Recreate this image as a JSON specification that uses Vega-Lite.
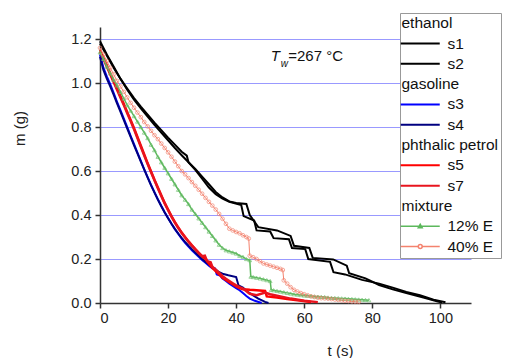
{
  "$schema": "https://vega.github.io/schema/vega-lite/v6.json",
  "width": 371,
  "height": 276,
  "autosize": {"type": "none"},
  "padding": {"left": 100, "top": 27, "right": 35, "bottom": 55},
  "background": "white",
  "config": {"view": {"stroke": null}, "font": "Liberation Sans"},
  "datasets": {
    "curves": [
      {"s":"s1","t":0,"m":1.19},{"s":"s1","t":2,"m":1.13},{"s":"s1","t":4,"m":1.075},{"s":"s1","t":6,"m":1.02},{"s":"s1","t":8,"m":0.97},{"s":"s1","t":10,"m":0.925},{"s":"s1","t":12,"m":0.885},{"s":"s1","t":14,"m":0.847},{"s":"s1","t":16,"m":0.81},{"s":"s1","t":18,"m":0.775},{"s":"s1","t":20,"m":0.74},{"s":"s1","t":22,"m":0.705},{"s":"s1","t":24,"m":0.672},{"s":"s1","t":26,"m":0.64},{"s":"s1","t":28,"m":0.605},{"s":"s1","t":30,"m":0.565},{"s":"s1","t":32,"m":0.525},{"s":"s1","t":34,"m":0.495},{"s":"s1","t":36,"m":0.475},{"s":"s1","t":38,"m":0.46},{"s":"s1","t":41.5,"m":0.445},{"s":"s1","t":42.2,"m":0.395},{"s":"s1","t":45.3,"m":0.375},{"s":"s1","t":46,"m":0.33},{"s":"s1","t":50,"m":0.325},{"s":"s1","t":51,"m":0.295},{"s":"s1","t":55.5,"m":0.29},{"s":"s1","t":56.4,"m":0.25},{"s":"s1","t":60.3,"m":0.245},{"s":"s1","t":61.2,"m":0.2},{"s":"s1","t":67.6,"m":0.187},{"s":"s1","t":68.6,"m":0.14},{"s":"s1","t":72,"m":0.13},{"s":"s1","t":77,"m":0.105},{"s":"s1","t":82,"m":0.088},{"s":"s1","t":86,"m":0.07},{"s":"s1","t":90,"m":0.05},{"s":"s1","t":94,"m":0.035},{"s":"s1","t":98,"m":0.015},{"s":"s1","t":101.5,"m":0.003},
      {"s":"s2","t":0,"m":1.18},{"s":"s2","t":2,"m":1.125},{"s":"s2","t":4,"m":1.07},{"s":"s2","t":6,"m":1.02},{"s":"s2","t":8,"m":0.975},{"s":"s2","t":10,"m":0.932},{"s":"s2","t":12,"m":0.893},{"s":"s2","t":14,"m":0.856},{"s":"s2","t":16,"m":0.82},{"s":"s2","t":18,"m":0.786},{"s":"s2","t":20,"m":0.752},{"s":"s2","t":22,"m":0.72},{"s":"s2","t":24,"m":0.688},{"s":"s2","t":25.5,"m":0.67},{"s":"s2","t":26,"m":0.64},{"s":"s2","t":28,"m":0.61},{"s":"s2","t":30,"m":0.575},{"s":"s2","t":32,"m":0.54},{"s":"s2","t":34,"m":0.505},{"s":"s2","t":36,"m":0.48},{"s":"s2","t":38,"m":0.462},{"s":"s2","t":40,"m":0.455},{"s":"s2","t":43,"m":0.45},{"s":"s2","t":44,"m":0.4},{"s":"s2","t":46.5,"m":0.345},{"s":"s2","t":52,"m":0.33},{"s":"s2","t":56,"m":0.305},{"s":"s2","t":57,"m":0.26},{"s":"s2","t":61.5,"m":0.25},{"s":"s2","t":62.5,"m":0.205},{"s":"s2","t":68.5,"m":0.198},{"s":"s2","t":72.5,"m":0.17},{"s":"s2","t":73.2,"m":0.135},{"s":"s2","t":78,"m":0.112},{"s":"s2","t":82,"m":0.082},{"s":"s2","t":86,"m":0.062},{"s":"s2","t":90,"m":0.045},{"s":"s2","t":95,"m":0.025},{"s":"s2","t":99,"m":0.008},{"s":"s2","t":100.5,"m":0.002},
      {"s":"s3","t":0,"m":1.13},{"s":"s3","t":1,"m":1.07},{"s":"s3","t":2,"m":1.03},{"s":"s3","t":3,"m":0.995},{"s":"s3","t":4,"m":0.955},{"s":"s3","t":5,"m":0.915},{"s":"s3","t":6,"m":0.877},{"s":"s3","t":7,"m":0.838},{"s":"s3","t":8,"m":0.8},{"s":"s3","t":9,"m":0.76},{"s":"s3","t":10,"m":0.722},{"s":"s3","t":11,"m":0.684},{"s":"s3","t":12,"m":0.646},{"s":"s3","t":13,"m":0.608},{"s":"s3","t":14,"m":0.572},{"s":"s3","t":15,"m":0.537},{"s":"s3","t":16,"m":0.504},{"s":"s3","t":17,"m":0.472},{"s":"s3","t":18,"m":0.442},{"s":"s3","t":19,"m":0.413},{"s":"s3","t":20,"m":0.386},{"s":"s3","t":21,"m":0.36},{"s":"s3","t":22,"m":0.336},{"s":"s3","t":23,"m":0.314},{"s":"s3","t":24,"m":0.293},{"s":"s3","t":25,"m":0.274},{"s":"s3","t":26,"m":0.257},{"s":"s3","t":27,"m":0.24},{"s":"s3","t":28,"m":0.225},{"s":"s3","t":29,"m":0.21},{"s":"s3","t":30,"m":0.196},{"s":"s3","t":31,"m":0.183},{"s":"s3","t":32,"m":0.17},{"s":"s3","t":33,"m":0.158},{"s":"s3","t":33.8,"m":0.157},{"s":"s3","t":34.3,"m":0.13},{"s":"s3","t":35.3,"m":0.125},{"s":"s3","t":35.9,"m":0.112},{"s":"s3","t":37,"m":0.1},{"s":"s3","t":38,"m":0.088},{"s":"s3","t":39,"m":0.078},{"s":"s3","t":40,"m":0.068},{"s":"s3","t":41,"m":0.058},{"s":"s3","t":42,"m":0.045},{"s":"s3","t":43,"m":0.032},{"s":"s3","t":44,"m":0.02},{"s":"s3","t":45.5,"m":0.01},{"s":"s3","t":47.5,"m":0},
      {"s":"s4","t":0,"m":1.12},{"s":"s4","t":1,"m":1.06},{"s":"s4","t":2,"m":1.02},{"s":"s4","t":3,"m":0.985},{"s":"s4","t":4,"m":0.947},{"s":"s4","t":5,"m":0.908},{"s":"s4","t":6,"m":0.87},{"s":"s4","t":7,"m":0.832},{"s":"s4","t":8,"m":0.793},{"s":"s4","t":9,"m":0.755},{"s":"s4","t":10,"m":0.717},{"s":"s4","t":11,"m":0.68},{"s":"s4","t":12,"m":0.643},{"s":"s4","t":13,"m":0.606},{"s":"s4","t":14,"m":0.57},{"s":"s4","t":15,"m":0.535},{"s":"s4","t":16,"m":0.502},{"s":"s4","t":17,"m":0.47},{"s":"s4","t":18,"m":0.44},{"s":"s4","t":19,"m":0.412},{"s":"s4","t":20,"m":0.385},{"s":"s4","t":21,"m":0.36},{"s":"s4","t":22,"m":0.337},{"s":"s4","t":23,"m":0.316},{"s":"s4","t":24,"m":0.296},{"s":"s4","t":25,"m":0.278},{"s":"s4","t":26,"m":0.261},{"s":"s4","t":27,"m":0.245},{"s":"s4","t":28,"m":0.23},{"s":"s4","t":29,"m":0.215},{"s":"s4","t":30,"m":0.2},{"s":"s4","t":31,"m":0.187},{"s":"s4","t":32,"m":0.175},{"s":"s4","t":33,"m":0.163},{"s":"s4","t":34,"m":0.152},{"s":"s4","t":35,"m":0.14},{"s":"s4","t":36,"m":0.133},{"s":"s4","t":37.7,"m":0.126},{"s":"s4","t":40,"m":0.118},{"s":"s4","t":40.7,"m":0.08},{"s":"s4","t":42,"m":0.07},{"s":"s4","t":43.5,"m":0.05},{"s":"s4","t":45,"m":0.035},{"s":"s4","t":46.5,"m":0.02},{"s":"s4","t":48.5,"m":0.005},{"s":"s4","t":49.5,"m":0},
      {"s":"s5","t":0,"m":1.15},{"s":"s5","t":1,"m":1.115},{"s":"s5","t":2,"m":1.08},{"s":"s5","t":3,"m":1.045},{"s":"s5","t":4,"m":1.01},{"s":"s5","t":5,"m":0.975},{"s":"s5","t":6,"m":0.94},{"s":"s5","t":7,"m":0.905},{"s":"s5","t":8,"m":0.868},{"s":"s5","t":9,"m":0.832},{"s":"s5","t":10,"m":0.795},{"s":"s5","t":11,"m":0.755},{"s":"s5","t":12,"m":0.715},{"s":"s5","t":13,"m":0.675},{"s":"s5","t":14,"m":0.635},{"s":"s5","t":15,"m":0.598},{"s":"s5","t":16,"m":0.56},{"s":"s5","t":17,"m":0.525},{"s":"s5","t":18,"m":0.49},{"s":"s5","t":19,"m":0.455},{"s":"s5","t":20,"m":0.425},{"s":"s5","t":21,"m":0.395},{"s":"s5","t":22,"m":0.368},{"s":"s5","t":23,"m":0.343},{"s":"s5","t":24,"m":0.32},{"s":"s5","t":25,"m":0.3},{"s":"s5","t":26,"m":0.28},{"s":"s5","t":27,"m":0.262},{"s":"s5","t":28,"m":0.245},{"s":"s5","t":29,"m":0.228},{"s":"s5","t":30,"m":0.212},{"s":"s5","t":31,"m":0.2},{"s":"s5","t":32,"m":0.18},{"s":"s5","t":33,"m":0.16},{"s":"s5","t":34,"m":0.145},{"s":"s5","t":35,"m":0.13},{"s":"s5","t":36,"m":0.115},{"s":"s5","t":37,"m":0.105},{"s":"s5","t":38,"m":0.095},{"s":"s5","t":39,"m":0.085},{"s":"s5","t":40,"m":0.075},{"s":"s5","t":41,"m":0.068},{"s":"s5","t":42,"m":0.063},{"s":"s5","t":44,"m":0.06},{"s":"s5","t":46,"m":0.058},{"s":"s5","t":48.5,"m":0.055},{"s":"s5","t":49,"m":0.03},{"s":"s5","t":52,"m":0.025},{"s":"s5","t":55,"m":0.018},{"s":"s5","t":58,"m":0.012},{"s":"s5","t":62,"m":0.005},
      {"s":"s7","t":0,"m":1.145},{"s":"s7","t":1,"m":1.11},{"s":"s7","t":2,"m":1.075},{"s":"s7","t":3,"m":1.04},{"s":"s7","t":4,"m":1.005},{"s":"s7","t":5,"m":0.97},{"s":"s7","t":6,"m":0.935},{"s":"s7","t":7,"m":0.9},{"s":"s7","t":8,"m":0.863},{"s":"s7","t":9,"m":0.827},{"s":"s7","t":10,"m":0.79},{"s":"s7","t":11,"m":0.75},{"s":"s7","t":12,"m":0.71},{"s":"s7","t":13,"m":0.67},{"s":"s7","t":14,"m":0.632},{"s":"s7","t":15,"m":0.595},{"s":"s7","t":16,"m":0.558},{"s":"s7","t":17,"m":0.522},{"s":"s7","t":18,"m":0.487},{"s":"s7","t":19,"m":0.453},{"s":"s7","t":20,"m":0.422},{"s":"s7","t":21,"m":0.393},{"s":"s7","t":22,"m":0.366},{"s":"s7","t":23,"m":0.341},{"s":"s7","t":24,"m":0.318},{"s":"s7","t":25,"m":0.298},{"s":"s7","t":26,"m":0.279},{"s":"s7","t":27,"m":0.261},{"s":"s7","t":28,"m":0.244},{"s":"s7","t":29,"m":0.228},{"s":"s7","t":30,"m":0.213},{"s":"s7","t":30.8,"m":0.215},{"s":"s7","t":31.5,"m":0.19},{"s":"s7","t":32.5,"m":0.185},{"s":"s7","t":33,"m":0.165},{"s":"s7","t":34,"m":0.152},{"s":"s7","t":35,"m":0.137},{"s":"s7","t":36,"m":0.122},{"s":"s7","t":37,"m":0.11},{"s":"s7","t":38,"m":0.1},{"s":"s7","t":39,"m":0.09},{"s":"s7","t":40,"m":0.08},{"s":"s7","t":41,"m":0.072},{"s":"s7","t":42,"m":0.066},{"s":"s7","t":44,"m":0.042},{"s":"s7","t":46,"m":0.035},{"s":"s7","t":48.5,"m":0.047},{"s":"s7","t":50,"m":0.04},{"s":"s7","t":53,"m":0.03},{"s":"s7","t":56,"m":0.02},{"s":"s7","t":60,"m":0.01},{"s":"s7","t":64,"m":0.004},
      {"s":"12% E","t":0,"m":1.14},{"s":"12% E","t":1,"m":1.11},{"s":"12% E","t":2,"m":1.075},{"s":"12% E","t":3,"m":1.045},{"s":"12% E","t":4,"m":1.015},{"s":"12% E","t":5,"m":0.99},{"s":"12% E","t":6,"m":0.96},{"s":"12% E","t":7,"m":0.93},{"s":"12% E","t":8,"m":0.9},{"s":"12% E","t":9,"m":0.875},{"s":"12% E","t":10,"m":0.85},{"s":"12% E","t":11,"m":0.825},{"s":"12% E","t":12,"m":0.8},{"s":"12% E","t":13,"m":0.775},{"s":"12% E","t":14,"m":0.75},{"s":"12% E","t":15,"m":0.72},{"s":"12% E","t":16,"m":0.695},{"s":"12% E","t":17,"m":0.665},{"s":"12% E","t":18,"m":0.64},{"s":"12% E","t":19,"m":0.615},{"s":"12% E","t":20,"m":0.59},{"s":"12% E","t":21,"m":0.565},{"s":"12% E","t":22,"m":0.54},{"s":"12% E","t":23,"m":0.515},{"s":"12% E","t":24,"m":0.49},{"s":"12% E","t":25,"m":0.47},{"s":"12% E","t":26,"m":0.45},{"s":"12% E","t":27,"m":0.425},{"s":"12% E","t":28,"m":0.405},{"s":"12% E","t":29,"m":0.385},{"s":"12% E","t":30,"m":0.365},{"s":"12% E","t":31,"m":0.345},{"s":"12% E","t":32,"m":0.325},{"s":"12% E","t":33,"m":0.305},{"s":"12% E","t":34,"m":0.285},{"s":"12% E","t":35,"m":0.265},{"s":"12% E","t":36,"m":0.25},{"s":"12% E","t":37,"m":0.24},{"s":"12% E","t":38,"m":0.235},{"s":"12% E","t":39,"m":0.23},{"s":"12% E","t":40,"m":0.225},{"s":"12% E","t":41,"m":0.215},{"s":"12% E","t":42,"m":0.21},{"s":"12% E","t":43,"m":0.2},{"s":"12% E","t":44,"m":0.195},{"s":"12% E","t":44.3,"m":0.12},{"s":"12% E","t":45,"m":0.118},{"s":"12% E","t":46,"m":0.115},{"s":"12% E","t":47,"m":0.112},{"s":"12% E","t":48,"m":0.108},{"s":"12% E","t":49,"m":0.104},{"s":"12% E","t":50,"m":0.1},{"s":"12% E","t":50.3,"m":0.06},{"s":"12% E","t":51,"m":0.058},{"s":"12% E","t":52,"m":0.055},{"s":"12% E","t":53,"m":0.052},{"s":"12% E","t":54,"m":0.049},{"s":"12% E","t":55,"m":0.046},{"s":"12% E","t":56,"m":0.043},{"s":"12% E","t":57,"m":0.04},{"s":"12% E","t":58,"m":0.038},{"s":"12% E","t":59,"m":0.036},{"s":"12% E","t":60,"m":0.034},{"s":"12% E","t":61,"m":0.033},{"s":"12% E","t":62,"m":0.032},{"s":"12% E","t":63,"m":0.03},{"s":"12% E","t":64,"m":0.029},{"s":"12% E","t":65,"m":0.028},{"s":"12% E","t":66,"m":0.027},{"s":"12% E","t":67,"m":0.025},{"s":"12% E","t":68,"m":0.024},{"s":"12% E","t":69,"m":0.023},{"s":"12% E","t":70,"m":0.022},{"s":"12% E","t":71,"m":0.021},{"s":"12% E","t":72,"m":0.02},{"s":"12% E","t":73,"m":0.019},{"s":"12% E","t":74,"m":0.018},{"s":"12% E","t":75,"m":0.017},{"s":"12% E","t":76,"m":0.016},{"s":"12% E","t":77,"m":0.015},{"s":"12% E","t":78,"m":0.014},{"s":"12% E","t":79,"m":0.013},
      {"s":"40% E","t":0,"m":1.16},{"s":"40% E","t":1,"m":1.13},{"s":"40% E","t":2,"m":1.1},{"s":"40% E","t":3,"m":1.07},{"s":"40% E","t":4,"m":1.04},{"s":"40% E","t":5,"m":1.01},{"s":"40% E","t":6,"m":0.985},{"s":"40% E","t":7,"m":0.96},{"s":"40% E","t":8,"m":0.935},{"s":"40% E","t":9,"m":0.91},{"s":"40% E","t":10,"m":0.888},{"s":"40% E","t":11,"m":0.866},{"s":"40% E","t":12,"m":0.845},{"s":"40% E","t":13,"m":0.823},{"s":"40% E","t":14,"m":0.803},{"s":"40% E","t":15,"m":0.783},{"s":"40% E","t":16,"m":0.763},{"s":"40% E","t":17,"m":0.745},{"s":"40% E","t":18,"m":0.725},{"s":"40% E","t":19,"m":0.705},{"s":"40% E","t":20,"m":0.685},{"s":"40% E","t":21,"m":0.665},{"s":"40% E","t":22,"m":0.643},{"s":"40% E","t":23,"m":0.622},{"s":"40% E","t":24,"m":0.6},{"s":"40% E","t":25,"m":0.585},{"s":"40% E","t":26,"m":0.568},{"s":"40% E","t":27,"m":0.55},{"s":"40% E","t":28,"m":0.533},{"s":"40% E","t":29,"m":0.515},{"s":"40% E","t":30,"m":0.497},{"s":"40% E","t":31,"m":0.478},{"s":"40% E","t":32,"m":0.46},{"s":"40% E","t":33,"m":0.443},{"s":"40% E","t":34,"m":0.425},{"s":"40% E","t":35,"m":0.405},{"s":"40% E","t":36,"m":0.383},{"s":"40% E","t":37,"m":0.36},{"s":"40% E","t":38,"m":0.338},{"s":"40% E","t":39,"m":0.33},{"s":"40% E","t":40,"m":0.323},{"s":"40% E","t":41,"m":0.317},{"s":"40% E","t":42,"m":0.308},{"s":"40% E","t":43,"m":0.3},{"s":"40% E","t":43.7,"m":0.293},{"s":"40% E","t":44,"m":0.215},{"s":"40% E","t":45,"m":0.208},{"s":"40% E","t":46,"m":0.2},{"s":"40% E","t":47,"m":0.19},{"s":"40% E","t":48,"m":0.18},{"s":"40% E","t":49,"m":0.175},{"s":"40% E","t":50,"m":0.17},{"s":"40% E","t":51,"m":0.165},{"s":"40% E","t":52,"m":0.16},{"s":"40% E","t":53,"m":0.155},{"s":"40% E","t":53.7,"m":0.15},{"s":"40% E","t":54,"m":0.103},{"s":"40% E","t":55,"m":0.088},{"s":"40% E","t":56,"m":0.072},{"s":"40% E","t":57,"m":0.06},{"s":"40% E","t":58,"m":0.052},{"s":"40% E","t":59,"m":0.045},{"s":"40% E","t":60,"m":0.04},{"s":"40% E","t":61,"m":0.035},{"s":"40% E","t":62,"m":0.03},{"s":"40% E","t":63,"m":0.027},{"s":"40% E","t":64,"m":0.024},{"s":"40% E","t":65,"m":0.022},{"s":"40% E","t":66,"m":0.021},{"s":"40% E","t":67,"m":0.02},{"s":"40% E","t":68,"m":0.018},{"s":"40% E","t":69,"m":0.016},{"s":"40% E","t":70,"m":0.014},{"s":"40% E","t":71,"m":0.012},{"s":"40% E","t":72,"m":0.01},{"s":"40% E","t":73,"m":0.009},{"s":"40% E","t":74,"m":0.007},{"s":"40% E","t":75,"m":0.006},{"s":"40% E","t":76,"m":0.005}
    ],
    "annT": [{"txt": "T", "t": 50.2, "m": 1.099}],
    "annW": [{"txt": "w", "t": 53.1, "m": 1.072}],
    "annV": [{"txt": "=267 °C", "t": 55.3, "m": 1.099}]
  },
  "layer": [
    {
      "data": {"name": "curves"},
      "mark": {"type": "line", "interpolate": "linear"},
      "encoding": {
        "x": {
          "field": "t", "type": "quantitative",
          "scale": {"domain": [0, 109], "nice": false, "zero": false},
          "axis": {
            "values": [0, 10, 20, 30, 40, 50, 60, 70, 80, 90, 100],
            "labelExpr": "datum.value % 20 === 0 ? datum.label : ''",
            "tickSize": {"condition": {"test": "datum.value % 20 === 0", "value": 5}, "value": 3},
            "grid": false,
            "domainColor": "#333", "domainWidth": 1.5, "tickColor": "#333", "tickWidth": 1.5,
            "labelFont": "Liberation Sans", "labelFontSize": 14.5, "labelColor": "#222", "labelPadding": 3,
            "title": "t  (s)", "titleFont": "Liberation Sans", "titleFontSize": 15, "titleFontWeight": "normal", "titleColor": "#222",
            "titleX": 240, "titleY": 52, "titleBaseline": "alphabetic", "titleAnchor": "middle"
          }
        },
        "y": {
          "field": "m", "type": "quantitative",
          "scale": {"domain": [0, 1.255], "nice": false},
          "axis": {
            "values": [0, 0.1, 0.2, 0.3, 0.4, 0.5, 0.6, 0.7, 0.8, 0.9, 1.0, 1.1, 1.2],
            "labelExpr": "round(datum.value * 10) % 2 === 0 ? format(datum.value, '.1f') : ''",
            "tickSize": {"condition": {"test": "round(datum.value * 10) % 2 === 0", "value": 5}, "value": 3},
            "grid": true,
            "gridColor": "#9999ff", "gridWidth": 1.2,
            "gridOpacity": {"condition": {"test": "round(datum.value * 10) % 2 === 0 && datum.value > 0", "value": 1}, "value": 0},
            "domainColor": "#333", "domainWidth": 1.5, "tickColor": "#333", "tickWidth": 1.5,
            "labelFont": "Liberation Sans", "labelFontSize": 14.5, "labelColor": "#222", "labelPadding": 4,
            "title": "m  (g)", "titleFont": "Liberation Sans", "titleFontSize": 15, "titleFontWeight": "normal", "titleColor": "#222",
            "titleAngle": -90, "titleX": -81, "titleY": 101, "titleBaseline": "middle", "titleAlign": "center"
          }
        },
        "color": {
          "field": "s", "type": "nominal",
          "scale": {
            "domain": ["ethanol", "s1", "s2", "gasoline", "s3", "s4", "phthalic petrol", "s5", "s7", "mixture", "12% E", "40% E"],
            "range": ["transparent", "#000000", "#000000", "transparent", "#0000ff", "#000080", "transparent", "#ff0000", "#e8141e", "transparent", "#5cb85c", "#f4826e"]
          },
          "legend": {
            "orient": "none", "legendX": 300, "legendY": -14, "title": null,
            "symbolType": "M-4,0H4", "symbolSize": 95, "symbolStrokeWidth": 2,
            "symbolOffset": 10, "labelOffset": 19.5,
            "labelFont": "Liberation Sans", "labelFontSize": 15.5, "labelColor": "#111", "labelLimit": 200,
            "padding": 2.5, "rowPadding": 3.3,
            "strokeColor": "#999", "fillColor": "white",
            "encode": {
              "labels": {"update": {"dx": {"signal": "indexof(['ethanol','gasoline','phthalic petrol','mixture'], datum.value) >= 0 ? -46 : 0"}}},
              "symbols": {"update": {
                "shape": {"signal": "datum.value === '12% E' ? 'M-4,0H4M0,-0.4L0.4,0.3L-0.4,0.3Z' : datum.value === '40% E' ? 'M-4,0H-0.4M0.4,0A0.4,0.4,0,1,1,-0.4,0A0.4,0.4,0,1,1,0.4,0M0.4,0H4' : 'M-4,0H4'"},
                "strokeWidth": {"signal": "datum.value === '12% E' || datum.value === '40% E' ? 1.5 : 2"},
                "fill": {"value": "white"}
              }}
            }
          }
        },
        "strokeWidth": {
          "condition": [
            {"test": "datum.s === '40% E'", "value": 1},
            {"test": "datum.s === '12% E'", "value": 1.5},
            {"test": "datum.s === 's5' || datum.s === 's7'", "value": 2.5}
          ],
          "value": 2
        }
      }
    },
    {
      "data": {"name": "curves"},
      "transform": [{"filter": "datum.s === '12% E'"}],
      "mark": {"type": "point", "shape": "triangle-up", "filled": false, "color": "#6cbf6c", "size": 14, "strokeWidth": 1},
      "encoding": {"x": {"field": "t", "type": "quantitative"}, "y": {"field": "m", "type": "quantitative"}}
    },
    {
      "data": {"name": "curves"},
      "transform": [{"filter": "datum.s === '40% E'"}],
      "mark": {"type": "point", "shape": "circle", "filled": false, "color": "#f4826e", "size": 14, "strokeWidth": 1},
      "encoding": {"x": {"field": "t", "type": "quantitative"}, "y": {"field": "m", "type": "quantitative"}}
    },
    {
      "data": {"name": "annT"},
      "mark": {"type": "text", "font": "Liberation Sans", "fontSize": 15, "fontStyle": "italic", "align": "left", "baseline": "alphabetic", "color": "#111"},
      "encoding": {"x": {"field": "t", "type": "quantitative"}, "y": {"field": "m", "type": "quantitative"}, "text": {"field": "txt"}}
    },
    {
      "data": {"name": "annW"},
      "mark": {"type": "text", "font": "Liberation Sans", "fontSize": 10, "fontStyle": "italic", "align": "left", "baseline": "alphabetic", "color": "#111"},
      "encoding": {"x": {"field": "t", "type": "quantitative"}, "y": {"field": "m", "type": "quantitative"}, "text": {"field": "txt"}}
    },
    {
      "data": {"name": "annV"},
      "mark": {"type": "text", "font": "Liberation Sans", "fontSize": 15, "align": "left", "baseline": "alphabetic", "color": "#111"},
      "encoding": {"x": {"field": "t", "type": "quantitative"}, "y": {"field": "m", "type": "quantitative"}, "text": {"field": "txt"}}
    }
  ]
}
